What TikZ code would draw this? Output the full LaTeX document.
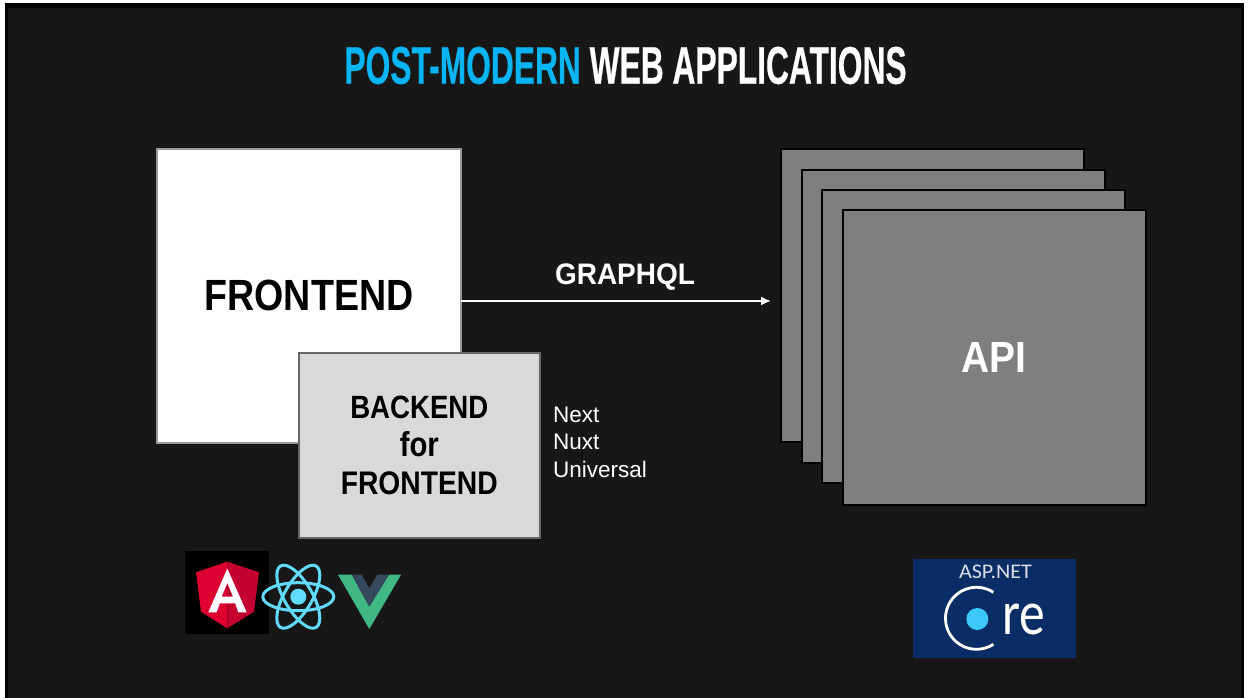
\documentclass[tikz,border=0pt]{standalone}
\usepackage{fontspec}
\usepackage{graphicx}
\setmainfont{Liberation Sans}
\newfontfamily\titlefont[BoldFont=*,FakeBold=0.6]{Liberation Sans Bold}
\newfontfamily\logofont{Carlito}
\usetikzlibrary{arrows.meta}
\definecolor{slate}{HTML}{171717}
\definecolor{titleblue}{HTML}{08B5F2}
\definecolor{stackgray}{HTML}{7F7F7F}
\definecolor{bffgray}{HTML}{D9D9D9}
\definecolor{ngred}{HTML}{DD0031}
\definecolor{ngdark}{HTML}{C3002F}
\definecolor{reactblue}{HTML}{61DAFB}
\definecolor{vuegreen}{HTML}{41B883}
\definecolor{vuedark}{HTML}{35495E}
\definecolor{aspblue}{HTML}{0B2D66}
\definecolor{aspdot}{HTML}{3CC8F8}
\tikzset{
  x=1pt,y=-1pt,
  panel/.style={anchor=north west,inner sep=0pt,outer sep=0pt},
  frontbox/.style={panel,fill=white,draw=black!40,line width=1.5pt},
  bffbox/.style={panel,fill=bffgray,draw=black!60,line width=1.5pt},
  apibox/.style={panel,fill=stackgray,draw=black,line width=2pt,minimum width=303pt,minimum height=293pt},
  boxlabel/.style={font=\fontsize{40}{44}\selectfont\bfseries,inner sep=0pt,anchor=base},
  smallbold/.style={font=\fontsize{30}{37.65}\selectfont\bfseries,align=center,inner sep=0pt},
  plainlist/.style={font=\fontsize{22.5}{27.5}\selectfont,align=left,text=white,anchor=north west,inner sep=0pt},
  flow/.style={draw=white,line width=1.8pt,-{Latex[length=10pt,width=9pt]}},
}
\begin{document}
\begin{tikzpicture}
\useasboundingbox (0,0) rectangle (1249,698);
\fill[white] (0,0) rectangle (1249,698);
\fill[black] (5,3) rectangle (1244,698);
\fill[slate] (8,8) rectangle (1241,698);
% title
\node[inner sep=0pt] (title) at (625.5,65.5) {\resizebox{562pt}{37pt}{\titlefont\textcolor{titleblue}{POST-MODERN} \textcolor{white}{WEB APPLICATIONS}}};
% frontend
\node[frontbox,minimum width=304pt,minimum height=294pt] (front) at (157,149) {};
\node[boxlabel,text=black] (frontlabel) at (309,310) {\resizebox{209pt}{30.5pt}{FRONTEND}};
% API stack
\node[apibox] (api1) at (781,149) {};
\node[apibox] (api2) at (802,169.5) {};
\node[apibox] (api3) at (822,190) {};
\node[apibox,minimum height=295pt] (api4) at (843,210) {};
\node[boxlabel,text=white] (apilabel) at (994,372) {\resizebox{65pt}{30pt}{API}};
% connector
\coordinate (arrowend) at (771,301);
\draw[flow] (front.east |- arrowend) -- (arrowend);
\node[inner sep=0pt,anchor=base,font=\fontsize{28}{32}\selectfont\bfseries,text=white] (gql) at (625,284.3) {\scalebox{1.0}[1.06]{GRAPHQL}};
% bff
\node[bffbox,minimum width=241pt,minimum height=185pt] (bff) at (299,353) {};
\node[smallbold,text=black] (bfflabel) at (419.3,445.5) {\resizebox{138pt}{22.5pt}{BACKEND}\\\resizebox{39pt}{25pt}{for}\\\resizebox{157pt}{22.8pt}{FRONTEND}};
\node[plainlist] (frameworks) at (553,406.6) {Next\\Nuxt\\Universal};
% Angular
\fill[black] (185,551) rectangle (269,634);
\fill[ngred] (227.3,561.7) -- (196,572.3) -- (201,611.7) -- (227.3,628.3) -- cycle;
\fill[ngdark] (227.3,561.7) -- (259,572.3) -- (254,611.7) -- (227.3,628.3) -- cycle;
\fill[white,even odd rule] (227.3,568.5) -- (208.3,612.3) -- (216.7,612.3) -- (219.8,603.3) -- (235.2,603.3) -- (238.3,612.3) -- (246.7,612.3) -- cycle
  (227.3,583) -- (221.6,596.7) -- (233,596.7) -- cycle;
% React
\begin{scope}[shift={(298.3,596.7)}]
\foreach \a in {0,60,120}
  \draw[reactblue,line width=3pt,rotate=\a] (0,0) ellipse [x radius=35.5pt,y radius=14pt];
\fill[reactblue] (0,0) circle [radius=8pt];
\end{scope}
% Vue
\fill[vuegreen] (338,574.7) -- (351.7,574.7) -- (369.3,606.7) -- (389,574.7) -- (401,574.7) -- (369.3,629) -- cycle;
\fill[vuedark] (351.7,574.7) -- (361.7,574.7) -- (369.3,588.3) -- (377.3,574.7) -- (389,574.7) -- (369.3,606.7) -- cycle;
% ASP.NET
\fill[aspblue] (913,559) rectangle (1075.7,657.7);
\node[inner sep=0pt,text=white!85!aspblue] (asp) at (995.5,571.7) {\resizebox{73pt}{13.5pt}{\logofont ASP.NET}};
\draw[white,line width=2.8pt] (976.5,618.3) ++(57:31pt) arc[start angle=57,end angle=303,radius=31pt];
\fill[aspdot] (977.3,619) circle [radius=11pt];
\node[inner sep=0pt,text=white,anchor=south west] (re) at (1002,635.5) {\resizebox{43pt}{30.5pt}{\logofont re}};
\end{tikzpicture}
\end{document}
